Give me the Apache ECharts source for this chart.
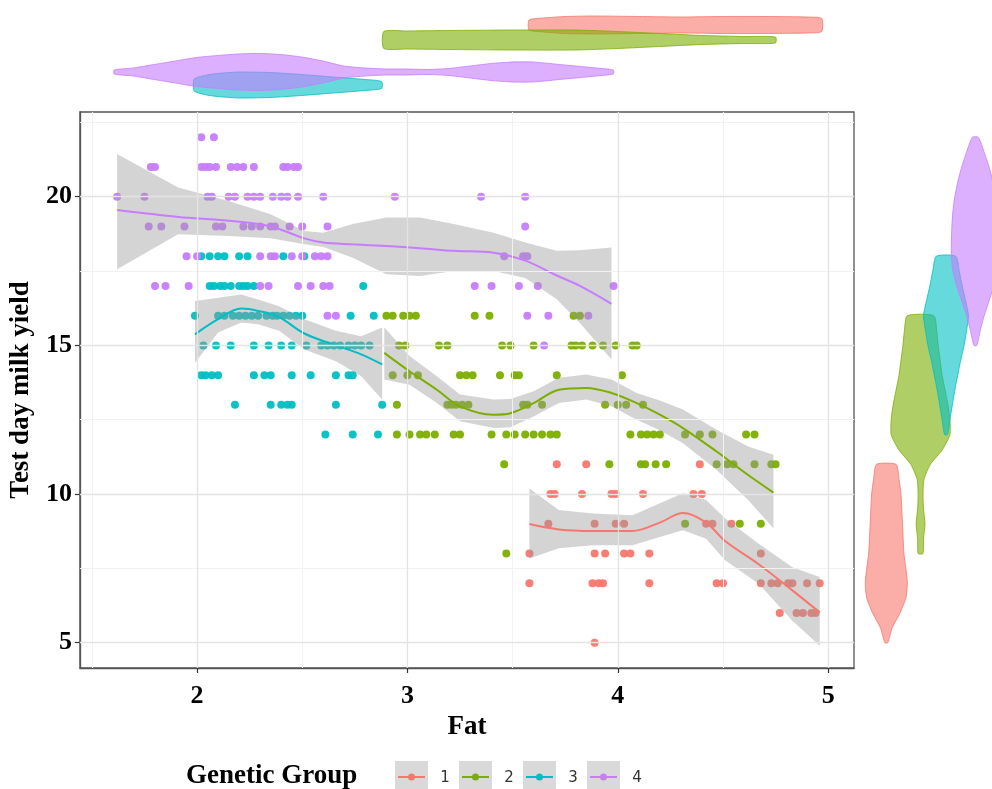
<!DOCTYPE html>
<html>
<head>
<meta charset="utf-8">
<script src="https://cdn.jsdelivr.net/npm/echarts@6/dist/echarts.min.js"></script>
<style>
  html, body { margin: 0; padding: 0; background: #fff; }
  #chart { width: 992px; height: 789px; }
</style>
</head>
<body>
<div id="chart"></div>
<script>
// genetic groups and ggplot default hues
const groupNames = ['1', '2', '3', '4'];
const groupColors = ['#F8766D', '#7CAE00', '#00BFC4', '#C77CFF'];

const xTicks = [2, 3, 4, 5];
const yTicks = [5, 10, 15, 20];
const xMajor = [2, 3, 4, 5];
const xMinor = [1.5, 2.5, 3.5, 4.5];
const yMajor = [5, 10, 15, 20];
const yMinor = [7.5, 12.5, 17.5, 22.5];

// observations [fat, test day milk yield]
const group1Points = [
  [3.71, 11], [3.85, 11], [4.39, 11],
  [3.68, 10], [3.70, 10], [3.83, 10], [3.97, 10], [3.99, 10], [4.12, 10], [4.36, 10], [4.40, 10],
  [3.67, 9], [3.89, 9], [3.99, 9], [4.03, 9], [4.42, 9], [4.45, 9], [4.54, 9],
  [3.58, 8], [3.89, 8], [3.94, 8], [4.03, 8], [4.06, 8], [4.15, 8], [4.68, 8],
  [3.58, 7], [3.88, 7], [3.91, 7], [3.93, 7], [4.15, 7], [4.47, 7], [4.50, 7], [4.68, 7],
  [4.73, 7], [4.76, 7], [4.81, 7], [4.83, 7], [4.90, 7], [4.96, 7],
  [4.77, 6], [4.85, 6], [4.88, 6], [4.92, 6], [4.94, 6],
  [3.89, 5]
];
const group2Points = [
  [2.90, 16], [2.93, 16], [2.98, 16], [3.01, 16], [3.04, 16], [3.32, 16], [3.39, 16], [3.79, 16], [3.82, 16],
  [2.96, 15], [2.99, 15], [3.15, 15], [3.19, 15], [3.45, 15], [3.49, 15], [3.60, 15], [3.78, 15],
  [3.80, 15], [3.83, 15], [3.88, 15], [3.93, 15], [3.99, 15], [4.07, 15], [4.09, 15],
  [2.93, 14], [3.00, 14], [3.05, 14], [3.25, 14], [3.28, 14], [3.31, 14], [3.44, 14], [3.51, 14],
  [3.53, 14], [3.71, 14], [4.02, 14],
  [2.95, 13], [3.19, 13], [3.21, 13], [3.23, 13], [3.26, 13], [3.29, 13], [3.55, 13], [3.57, 13],
  [3.64, 13], [3.94, 13], [4.00, 13], [4.04, 13], [4.12, 13],
  [2.95, 12], [3.01, 12], [3.06, 12], [3.09, 12], [3.13, 12], [3.22, 12], [3.25, 12], [3.40, 12],
  [3.47, 12], [3.51, 12], [3.56, 12], [3.60, 12], [3.64, 12], [3.68, 12], [3.71, 12], [4.06, 12],
  [4.11, 12], [4.14, 12], [4.17, 12], [4.20, 12], [4.32, 12], [4.39, 12], [4.45, 12], [4.61, 12], [4.65, 12],
  [3.46, 11], [3.96, 11], [4.11, 11], [4.13, 11], [4.18, 11], [4.23, 11], [4.47, 11], [4.52, 11],
  [4.55, 11], [4.65, 11], [4.73, 11], [4.75, 11],
  [4.32, 9], [4.58, 9], [4.68, 9],
  [3.47, 8]
];
const group3Points = [
  [2.02, 18], [2.06, 18], [2.10, 18], [2.13, 18], [2.20, 18], [2.24, 18], [2.41, 18], [2.51, 18],
  [2.06, 17], [2.08, 17], [2.11, 17], [2.13, 17], [2.16, 17], [2.20, 17], [2.22, 17], [2.24, 17],
  [2.27, 17], [2.79, 17],
  [1.99, 16], [2.10, 16], [2.13, 16], [2.17, 16], [2.20, 16], [2.23, 16], [2.26, 16], [2.29, 16],
  [2.33, 16], [2.36, 16], [2.38, 16], [2.41, 16], [2.44, 16], [2.47, 16], [2.50, 16], [2.73, 16], [2.84, 16],
  [2.03, 15], [2.09, 15], [2.16, 15], [2.27, 15], [2.34, 15], [2.40, 15], [2.45, 15], [2.52, 15],
  [2.59, 15], [2.62, 15], [2.65, 15], [2.68, 15], [2.72, 15], [2.75, 15], [2.78, 15], [2.82, 15],
  [2.02, 14], [2.04, 14], [2.07, 14], [2.10, 14], [2.27, 14], [2.32, 14], [2.35, 14], [2.45, 14],
  [2.54, 14], [2.66, 14], [2.72, 14], [2.74, 14],
  [2.18, 13], [2.35, 13], [2.40, 13], [2.43, 13], [2.45, 13], [2.66, 13], [2.88, 13],
  [2.61, 12], [2.74, 12], [2.86, 12]
];
const group4Points = [
  [2.02, 22], [2.08, 22],
  [1.78, 21], [1.80, 21], [2.02, 21], [2.04, 21], [2.06, 21], [2.09, 21], [2.16, 21], [2.19, 21],
  [2.22, 21], [2.27, 21], [2.41, 21], [2.43, 21], [2.46, 21], [2.48, 21],
  [1.62, 20], [1.75, 20], [2.05, 20], [2.07, 20], [2.15, 20], [2.18, 20], [2.24, 20], [2.27, 20],
  [2.30, 20], [2.36, 20], [2.40, 20], [2.43, 20], [2.48, 20], [2.60, 20], [2.94, 20], [3.35, 20], [3.56, 20],
  [1.77, 19], [1.83, 19], [1.94, 19], [2.09, 19], [2.12, 19], [2.22, 19], [2.26, 19], [2.30, 19],
  [2.35, 19], [2.37, 19], [2.44, 19], [2.50, 19], [2.62, 19], [3.56, 19],
  [1.95, 18], [2.00, 18], [2.30, 18], [2.35, 18], [2.37, 18], [2.45, 18], [2.50, 18], [2.56, 18],
  [2.59, 18], [2.62, 18], [3.46, 18], [3.55, 18], [3.57, 18],
  [1.80, 17], [1.85, 17], [1.96, 17], [2.30, 17], [2.34, 17], [2.48, 17], [2.54, 17], [2.60, 17],
  [2.63, 17], [3.32, 17], [3.40, 17], [3.53, 17], [3.62, 17], [3.98, 17],
  [2.62, 16], [2.66, 16], [3.57, 16], [3.67, 16], [3.86, 16],
  [3.65, 15]
];

// loess fits with confidence limits
const g1Fat = [3.58, 3.72, 3.88, 4.07, 4.20, 4.31, 4.42, 4.51, 4.67, 4.83, 4.96];
const g1Fit = [8.99, 8.81, 8.76, 8.76, 9.04, 9.36, 9.04, 8.42, 7.64, 6.76, 6.02];
const g1Lo = [7.83, 8.18, 8.28, 8.28, 8.56, 8.78, 8.50, 7.77, 6.98, 5.74, 4.90];
const g1Hi = [10.19, 9.46, 9.35, 9.29, 9.69, 10.03, 9.80, 9.19, 8.33, 7.54, 7.21];

const g2Fat = [2.89, 3.01, 3.14, 3.25, 3.41, 3.49, 3.60, 3.72, 3.85, 3.97, 4.09, 4.20, 4.31, 4.47, 4.62, 4.74];
const g2Fit = [14.75, 14.13, 13.51, 12.95, 12.67, 12.72, 13.06, 13.51, 13.57, 13.40, 13.06, 12.67, 12.22, 11.43, 10.64, 10.05];
const g2Lo = [13.85, 13.68, 13.06, 12.45, 12.22, 12.25, 12.61, 13.06, 13.18, 12.95, 12.50, 12.15, 11.71, 10.81, 9.80, 8.85];
const g2Hi = [15.61, 14.64, 13.96, 13.35, 13.18, 13.20, 13.46, 13.91, 14.02, 13.85, 13.40, 13.15, 12.84, 12.16, 11.60, 11.32];

const g3Fat = [1.99, 2.10, 2.21, 2.29, 2.39, 2.51, 2.66, 2.78, 2.88];
const g3Fit = [15.37, 15.88, 16.24, 16.16, 15.95, 15.40, 15.00, 14.70, 14.36];
const g3Lo = [14.42, 15.43, 15.77, 15.71, 15.49, 14.86, 14.47, 13.96, 13.18];
const g3Hi = [16.49, 16.60, 16.71, 16.54, 16.32, 15.88, 15.49, 15.31, 15.60];

const g4Fat = [1.62, 1.91, 2.15, 2.35, 2.51, 2.60, 2.74, 2.90, 3.06, 3.22, 3.41, 3.56, 3.71, 3.82, 3.97];
const g4Fit = [19.55, 19.32, 19.19, 19.00, 18.60, 18.46, 18.40, 18.34, 18.27, 18.18, 18.12, 17.85, 17.35, 17.00, 16.40];
const g4Lo = [17.56, 18.74, 18.68, 18.60, 18.40, 18.31, 17.95, 17.39, 17.33, 17.50, 17.50, 17.27, 16.55, 15.75, 14.53];
const g4Hi = [21.44, 20.31, 19.86, 19.41, 18.85, 18.79, 19.08, 19.30, 19.30, 19.08, 18.79, 18.46, 18.18, 18.20, 18.29];

// marginal violins along Fat (thickness in px)
const v1Fat = [3.58, 3.65, 3.75, 3.9, 4.1, 4.3, 4.5, 4.7, 4.9, 4.97];
const v1Thick = [10, 14, 17, 18, 17, 16, 17, 17, 16, 13];
const v2Fat = [2.89, 3.0, 3.2, 3.5, 3.8, 4.0, 4.2, 4.4, 4.6, 4.75];
const v2Thick = [17, 18, 19, 20, 20, 17, 13, 9, 7, 6];
const v3Fat = [1.99, 2.05, 2.1, 2.2, 2.35, 2.5, 2.65, 2.8, 2.88];
const v3Thick = [12, 20, 23, 26, 25, 21, 16, 11, 7];
const v4Fat = [1.61, 1.7, 1.8, 1.9, 2.0, 2.1, 2.2, 2.3, 2.4, 2.5, 2.6, 2.7, 2.8, 2.9, 3.0, 3.1, 3.2, 3.3, 3.4, 3.5, 3.6, 3.7, 3.8, 3.9, 3.98];
const v4Thick = [4, 8, 15, 22, 29, 33, 36, 37, 35, 30, 22, 12, 8, 6, 6, 5, 7, 12, 17, 20, 20, 16, 12, 8, 4];

// marginal violins along milk yield (width in px)
const r1Yield = [5, 5.5, 6, 6.5, 7, 7.5, 8, 9, 10, 10.5, 11];
const r1Width = [3, 12, 28, 40, 43, 40, 36, 33, 30, 26, 20];
const r2Yield = [8, 8.5, 9, 9.5, 10, 10.5, 11, 11.5, 12, 12.5, 13, 13.5, 14, 14.5, 15, 15.5, 16];
const r2Width = [5, 6, 9, 6, 5, 7, 20, 45, 60, 60, 56, 50, 44, 40, 36, 33, 27];
const r3Yield = [12, 12.5, 13, 13.5, 14, 14.5, 15, 15.5, 16, 16.5, 17, 17.5, 18];
const r3Width = [3, 8, 13, 18, 24, 30, 37, 42, 46, 40, 33, 27, 20];
const r4Yield = [15, 15.5, 16, 16.5, 17, 17.5, 18, 18.5, 19, 19.5, 20, 20.5, 21, 21.5, 22];
const r4Width = [3, 10, 18, 28, 38, 46, 49, 49, 48, 46, 42, 36, 28, 18, 6];

// layout of the margins
const topCenters = [25, 40, 85, 72];
const rightCenters = [32, 67, 93, 123];

const serif = '"Liberation Serif", "DejaVu Serif", serif';
const bandFill = 'rgba(153,153,153,0.42)';

const pointSets = [group1Points, group2Points, group3Points, group4Points];
const bandSets = [
  { fat: g1Fat, lo: g1Lo, hi: g1Hi },
  { fat: g2Fat, lo: g2Lo, hi: g2Hi },
  { fat: g3Fat, lo: g3Lo, hi: g3Hi },
  { fat: g4Fat, lo: g4Lo, hi: g4Hi }
];
const fitSets = [[g1Fat, g1Fit], [g2Fat, g2Fit], [g3Fat, g3Fit], [g4Fat, g4Fit]];
const topViolins = [[v1Fat, v1Thick], [v2Fat, v2Thick], [v3Fat, v3Thick], [v4Fat, v4Thick]];
const rightViolins = [[r1Yield, r1Width], [r2Yield, r2Width], [r3Yield, r3Width], [r4Yield, r4Width]];

function fadeColor(hex, a) {
  const n = parseInt(hex.slice(1), 16);
  return 'rgba(' + (n >> 16) + ',' + ((n >> 8) & 255) + ',' + (n & 255) + ',' + a + ')';
}

const myChart = echarts.init(document.getElementById('chart'), null, { renderer: 'canvas' });

const series = [];

// grid lines (drawn through the value axes)
series.push({
  type: 'line',
  xAxisIndex: 0,
  yAxisIndex: 0,
  data: [],
  silent: true,
  z: 0,
  markLine: {
    silent: true,
    symbol: 'none',
    label: { show: false },
    animation: false,
    data: [
      ...xMinor.map((v) => ({ xAxis: v, lineStyle: { color: '#f2f2f2', width: 1, type: 'solid' } })),
      ...yMinor.map((v) => ({ yAxis: v, lineStyle: { color: '#f2f2f2', width: 1, type: 'solid' } })),
      ...xMajor.map((v) => ({ xAxis: v, lineStyle: { color: '#e3e3e3', width: 1.3, type: 'solid' } })),
      ...yMajor.map((v) => ({ yAxis: v, lineStyle: { color: '#e3e3e3', width: 1.3, type: 'solid' } }))
    ]
  }
});

// points
pointSets.forEach((pts, i) => {
  series.push({
    name: groupNames[i],
    type: 'scatter',
    xAxisIndex: 0,
    yAxisIndex: 0,
    data: pts,
    symbolSize: 8,
    itemStyle: { color: groupColors[i], opacity: 0.95 },
    z: 2
  });
});

// confidence bands
series.push({
  type: 'custom',
  xAxisIndex: 0,
  yAxisIndex: 0,
  data: bandSets.map((b, i) => [i]),
  silent: true,
  z: 3,
  renderItem(params, api) {
    const b = bandSets[params.dataIndex];
    const pts = [];
    for (let i = 0; i < b.fat.length; i++) pts.push(api.coord([b.fat[i], b.hi[i]]));
    for (let i = b.fat.length - 1; i >= 0; i--) pts.push(api.coord([b.fat[i], b.lo[i]]));
    return { type: 'polygon', shape: { points: pts }, style: { fill: bandFill } };
  }
});

// loess lines
fitSets.forEach(([fx, fy], i) => {
  series.push({
    type: 'line',
    xAxisIndex: 0,
    yAxisIndex: 0,
    data: fx.map((v, k) => [v, fy[k]]),
    smooth: 0.35,
    showSymbol: false,
    silent: true,
    lineStyle: { color: groupColors[i], width: 2 },
    z: 4
  });
});

// top marginal violins
series.push({
  type: 'custom',
  xAxisIndex: 1,
  yAxisIndex: 1,
  data: topViolins.map((v, i) => [i]),
  silent: true,
  renderItem(params, api) {
    const k = params.dataIndex;
    const [pos, thick] = topViolins[k];
    const c = topCenters[k];
    const pts = [];
    for (let i = 0; i < pos.length; i++) pts.push(api.coord([pos[i], c - thick[i] / 2]));
    for (let i = pos.length - 1; i >= 0; i--) pts.push(api.coord([pos[i], c + thick[i] / 2]));
    return {
      type: 'polygon',
      shape: { points: pts, smooth: 0.2 },
      style: { fill: fadeColor(groupColors[k], 0.6), stroke: groupColors[k], lineWidth: 0.8 }
    };
  }
});

// right marginal violins
series.push({
  type: 'custom',
  xAxisIndex: 2,
  yAxisIndex: 2,
  data: rightViolins.map((v, i) => [i]),
  silent: true,
  renderItem(params, api) {
    const k = params.dataIndex;
    const [pos, wid] = rightViolins[k];
    const c = rightCenters[k];
    const pts = [];
    for (let i = 0; i < pos.length; i++) pts.push(api.coord([c - wid[i] / 2, pos[i]]));
    for (let i = pos.length - 1; i >= 0; i--) pts.push(api.coord([c + wid[i] / 2, pos[i]]));
    return {
      type: 'polygon',
      shape: { points: pts, smooth: 0.2 },
      style: { fill: fadeColor(groupColors[k], 0.6), stroke: groupColors[k], lineWidth: 0.8 }
    };
  }
});

// legend keys
const legendGraphics = [{
  type: 'text',
  left: 186,
  top: 763,
  style: { text: 'Genetic Group', font: 'bold 27px ' + serif, fill: '#000' }
}];
groupNames.forEach((g, i) => {
  const x0 = 395 + i * 64;
  legendGraphics.push({
    type: 'group',
    left: x0,
    top: 761,
    children: [
      { type: 'rect', shape: { x: 0, y: 0, width: 33, height: 34 }, style: { fill: '#d9d9d9' } },
      { type: 'line', shape: { x1: 3, y1: 16, x2: 30, y2: 16 }, style: { stroke: groupColors[i], lineWidth: 2 } },
      { type: 'circle', shape: { cx: 16.5, cy: 16, r: 3.5 }, style: { fill: groupColors[i] } },
      { type: 'text', x: 50, y: 17, style: { text: g, font: '15px "DejaVu Sans", sans-serif', fill: '#333', align: 'center', verticalAlign: 'middle' } }
    ]
  });
});

const option = {
  backgroundColor: '#fff',
  animation: false,
  grid: [
    { left: 79, top: 112, width: 775, height: 556, show: true, borderColor: '#555', borderWidth: 1.3, backgroundColor: 'transparent' },
    { left: 79, top: 0, width: 775, height: 110 },
    { left: 855, top: 112, width: 140, height: 556 }
  ],
  xAxis: [
    {
      gridIndex: 0,
      type: 'value',
      min: 1.443,
      max: 5.123,
      name: 'Fat',
      nameLocation: 'middle',
      nameGap: 39,
      nameTextStyle: { fontFamily: serif, fontWeight: 'bold', fontSize: 27, color: '#000' },
      axisLine: { show: true, lineStyle: { color: '#555', width: 1.3 } },
      axisTick: { show: true, customValues: xTicks, length: 5, lineStyle: { color: '#333', width: 1.2 } },
      axisLabel: { customValues: xTicks, margin: 15, fontFamily: serif, fontWeight: 'bold', fontSize: 26, color: '#000' },
      splitLine: { show: false }
    },
    { gridIndex: 1, type: 'value', min: 1.443, max: 5.123, show: false },
    { gridIndex: 2, type: 'value', min: 0, max: 140, show: false }
  ],
  yAxis: [
    {
      gridIndex: 0,
      type: 'value',
      min: 4.15,
      max: 22.85,
      name: 'Test day milk yield',
      nameLocation: 'middle',
      nameGap: 34,
      nameRotate: 90,
      nameTextStyle: { fontFamily: serif, fontWeight: 'bold', fontSize: 27, color: '#000' },
      axisLine: { show: true, lineStyle: { color: '#555', width: 1.3 } },
      axisTick: { show: true, customValues: yTicks, length: 5, lineStyle: { color: '#333', width: 1.2 } },
      axisLabel: { customValues: yTicks, margin: 8, fontFamily: serif, fontWeight: 'bold', fontSize: 26, color: '#000' },
      splitLine: { show: false }
    },
    { gridIndex: 1, type: 'value', min: 0, max: 110, inverse: true, show: false },
    { gridIndex: 2, type: 'value', min: 4.15, max: 22.85, show: false }
  ],
  graphic: legendGraphics,
  series
};

myChart.setOption(option);
</script>
</body>
</html>
